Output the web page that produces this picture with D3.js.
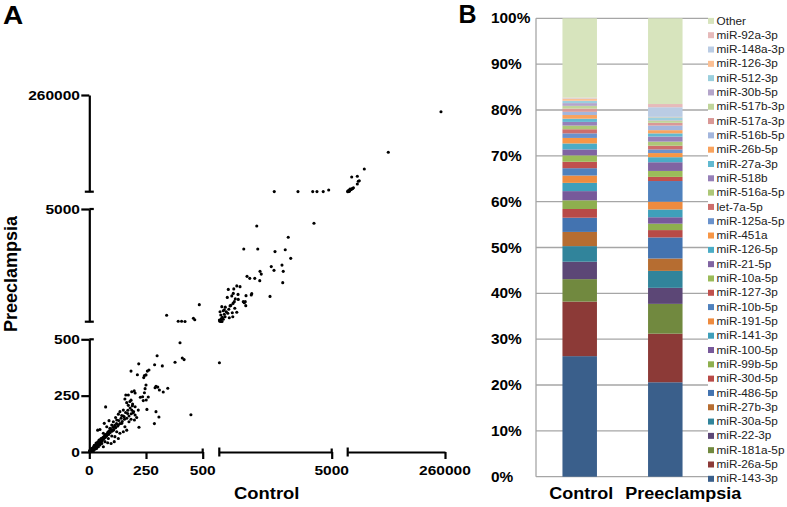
<!DOCTYPE html>
<html><head><meta charset="utf-8">
<script src="https://cdn.jsdelivr.net/npm/d3@7"></script>
<style>
body{margin:0;background:#fff}
svg{display:block}
text{font-family:"Liberation Sans",Arial,Helvetica,sans-serif}
</style></head>
<body><svg id="c" width="787" height="507"></svg>
<script>
// ---------- Panel A data (Control vs Preeclampsia read counts) ----------
const scatterControl = [
249500,111400,48500,15500,30200,35400,32800,30200,
5300,5800,6500,7200,8000,9000,10500,12000,14000,16000,18000,20000,6000,9500,11000,
2700,3650,4240,4410,4660,4880,
4290,3260,2730,3140,3360,2580,2690,3010,3060,3040,2530,2000,1480,2040,2130,2180,2120,1610,1720,1920,1800,1780,1570,1540,1560,
860,1080,1200,1330,1060,1250,1000,820,1140,1260,1460,1500,600,740,930,1050,1120,530,660,840,1020,1200,560,730,900,1040,505,560,610,660,
520,540,580,620,700,780,880,960,1100,700,
485,459,465,341,392,407,422,505,
400,299,378,410,418,288,322,218,184,212,243,250,256,263,240,294,302,309,290,326,346,250,246,243,161,198,225,238,251,254,260,235,202,72,294,307,287,219,448,
157,165,179,191,202,172,150,135,128,143,154,169,187,194,216,202,209,199,184,175,116,121,106,99,113,128,143,157,165,150,135,121,106,91,84,77,69,84,99,113,128,110,96,81,69,55,47,62,40,32,25,18,10,5,2,52,43,62,37,47,77,66,87,172,187,184,
5,8,12,15,20,3,28,22,35,30,10,18,40,45,55,60,38,25,14,50,
2,4,6,7,9,11,13,16,17,19,21,23,24,26,29,31,33,34,36,39,41,44,46,49,51,54,57,59,62,65,68,71,74,77,81,85,88,92,96,100,104,108,112,116,120,125,130,135,140,145,150,155,160,165,170,175,180,185,190,195
];
const scatterPreeclampsia = [
216000,108900,64900,43800,45600,34000,32400,25300,
5100,5600,6000,6500,7000,8000,8500,10000,11000,12500,13500,15500,7500,6500,12000,
5300,5300,5300,5300,5300,9500,
4430,3870,3300,3370,3030,2700,2550,2760,2510,2060,1510,4320,3400,3400,2510,2400,2140,2310,2230,2230,1620,1570,1540,1300,1140,
1790,1810,1930,1900,1630,1590,1530,1470,1410,1390,1300,1260,1100,1080,1130,1230,1040,900,940,840,860,880,770,700,660,700,570,505,510,600,
520,560,620,680,800,900,1000,1150,1300,980,
1180,640,580,755,520,520,505,396,
485,427,398,417,410,387,382,391,359,343,339,342,359,364,330,291,288,275,285,266,283,297,281,263,253,271,243,228,231,189,244,245,262,200,179,155,126,110,165,
235,219,224,213,201,207,186,179,168,162,156,171,186,174,186,164,153,142,145,134,153,142,134,120,112,120,127,112,97,90,83,90,97,105,90,75,68,60,71,68,60,46,38,41,46,38,31,23,23,16,12,6,3,1,0,60,53,83,97,100,112,127,139,253,267,230,
3,10,6,18,15,8,22,30,28,40,14,9,35,50,48,58,45,20,12,42,
5,2,7,4,12,8,15,11,20,16,24,19,28,22,33,27,36,30,41,35,44,40,52,45,56,49,62,55,66,60,74,65,79,72,86,78,94,86,100,92,110,100,118,108,126,115,140,126,150,135,160,145,175,150,185,160,195,170,205,180
];
const axisTicksA = [[0,250,500],[5000],[260000]];

// ---------- Panel B data (% of reads, stacked bottom -> top) ----------
const groupsB = ["Control","Preeclampsia"];
const mirNames = ["miR-143-3p","miR-26a-5p","miR-181a-5p","miR-22-3p","miR-30a-5p","miR-27b-3p","miR-486-5p","miR-30d-5p","miR-99b-5p","miR-100-5p","miR-141-3p","miR-191-5p","miR-10b-5p","miR-127-3p","miR-10a-5p","miR-21-5p","miR-126-5p","miR-451a","miR-125a-5p","let-7a-5p","miR-516a-5p","miR-518b","miR-27a-3p","miR-26b-5p","miR-516b-5p","miR-517a-3p","miR-517b-3p","miR-30b-5p","miR-512-3p","miR-126-3p","miR-148a-3p","miR-92a-3p","Other"];
const controlPct = [26.3,11.9,4.9,3.8,3.4,3.1,3.1,1.9,1.9,2.0,1.8,1.6,1.6,1.4,1.4,1.3,1.3,1.2,1.0,0.9,0.8,0.8,0.7,0.8,0.7,0.7,0.6,0.6,0.5,0.5,0.1,0.1,17.3];
const preeclampsiaPct = [20.6,10.6,6.5,3.5,3.7,2.7,4.6,1.6,1.4,1.4,1.7,1.7,4.5,0.9,1.3,1.9,1.1,0.9,0.8,0.8,0.9,1.1,0.7,0.7,1.0,0.6,0.5,0.1,0.6,0.1,2.1,0.7,18.7];
const mirColors = ["#3A5F8B","#8C3A37","#71893F","#5C4776","#31849B","#B66D31","#4373B0","#B84A47","#8EAF4E","#77599A","#3F9FBA","#EE8B3F","#4F81BD","#C0504D","#9BBB59","#8064A2","#4BACC6","#F79646","#6A92CC","#CD6E6B","#ADC777","#9680B8","#61B9D0","#F9A35E","#A3B6DD","#D99896","#C0D59B","#B4A5CA","#9BCFDD","#FBBF93","#BACCE4","#E6BABA","#D7E4BD"];
const pctTicks = d3.range(0,101,10);

const svg = d3.select("#c");

// ================= Panel A =================
const A = svg.append("g");
const xSegs = [[0,500],[500,5000],[5000,260000]].map((d,i)=>d3.scaleLinear(d,[[89.3,202.7],[219.3,331.7],[347.7,445]][i]));
const ySegs = [[0,500],[500,5000],[5000,260000]].map((d,i)=>d3.scaleLinear(d,[[452,339.3],[321.7,209],[191.7,95]][i]));
const segOf = v => v<=500?0:(v<=5000?1:2);
const px = v => xSegs[segOf(v)](v);
const py = v => ySegs[segOf(v)](v);
const yAxisX = 89.3, xAxisY = 452;

function styleAxis(g){
  g.select(".domain").attr("stroke","#000").attr("stroke-width",2.2);
  g.selectAll(".tick line").attr("stroke","#000").attr("stroke-width",2.2);
  g.selectAll(".tick text").remove();
}
xSegs.forEach((s,i)=>{
  const g = A.append("g").attr("transform",`translate(0,${xAxisY})`)
    .call(d3.axisBottom(s).tickValues(axisTicksA[i]).tickSize(7).tickSizeOuter(0));
  styleAxis(g);
});
ySegs.forEach((s,i)=>{
  const g = A.append("g").attr("transform",`translate(${yAxisX},0)`)
    .call(d3.axisLeft(s).tickValues(axisTicksA[i]).tickSize(8).tickSizeOuter(0));
  styleAxis(g);
});
// break caps
const capsX = [[xSegs[0].range()[1],-3.5,0],[xSegs[1].range()[0],-4.5,4.5],[xSegs[1].range()[1],-3.5,0],[xSegs[2].range()[0],-4.5,4.5]];
capsX.forEach(c=>A.append("line").attr("x1",c[0]).attr("x2",c[0]).attr("y1",xAxisY+c[1]).attr("y2",xAxisY+c[2]).attr("stroke","#000").attr("stroke-width",2.2));
const capsY = [[ySegs[0].range()[1],0,4.5],[ySegs[1].range()[0],-4.5,4.5],[ySegs[1].range()[1],0,4.5],[ySegs[2].range()[0],-4.5,4.5]];
capsY.forEach(c=>A.append("line").attr("y1",c[0]).attr("y2",c[0]).attr("x1",yAxisX+c[1]).attr("x2",yAxisX+c[2]).attr("stroke","#000").attr("stroke-width",2.2));

// tick labels
axisTicksA.forEach((ticks,i)=>ticks.forEach(t=>{
  A.append("text").attr("transform",`translate(${xSegs[i](t)},475) scale(1.15,1)`)
    .attr("text-anchor","middle").attr("font-size",13.5).attr("font-weight","bold").text(t);
  A.append("text").attr("transform",`translate(80,${ySegs[i](t)+4.8}) scale(1.15,1)`)
    .attr("text-anchor","end").attr("font-size",13.5).attr("font-weight","bold").text(t);
}));
A.append("text").attr("transform","translate(266.7,499) scale(1.15,1)").attr("text-anchor","middle")
  .attr("font-size",16).attr("font-weight","bold").text("Control");
A.append("text").attr("transform","translate(16.5,274) rotate(-90)").attr("text-anchor","middle")
  .attr("font-size",18).attr("font-weight","bold").text("Preeclampsia");
A.append("text").attr("transform","translate(3,24) scale(1.12,1)").attr("font-size",25).attr("font-weight","bold").text("A");

A.append("g").selectAll("circle").data(scatterControl.map((c,i)=>[c,scatterPreeclampsia[i]]))
  .join("circle").attr("cx",d=>px(d[0])).attr("cy",d=>py(d[1])).attr("r",1.55).attr("fill","#000");

// ================= Panel B =================
const B = svg.append("g");
const yB = d3.scaleLinear([0,100],[476.7,18.3]);
const xB = d3.scaleBand(groupsB,[537,708]).paddingInner(0.597).paddingOuter(0.2975);
const gridRight = 708;
B.append("g").selectAll("line").data(pctTicks).join("line")
  .attr("x1",536).attr("x2",gridRight).attr("y1",d=>yB(d)).attr("y2",d=>yB(d))
  .attr("stroke","#A6A6A6").attr("stroke-width",1.3);
B.append("line").attr("x1",536).attr("x2",536).attr("y1",yB(100)).attr("y2",yB(0)).attr("stroke","#A6A6A6").attr("stroke-width",1.3);

const tableB = groupsB.map((g,gi)=>{
  const row = {group:g};
  mirNames.forEach((m,i)=>row[m] = gi===0?controlPct[i]:preeclampsiaPct[i]);
  return row;
});
const stacked = d3.stack().keys(mirNames)(tableB);
B.append("g").selectAll("g").data(stacked).join("g").attr("fill",(d,i)=>mirColors[i])
  .selectAll("rect").data(d=>d).join("rect")
  .attr("x",d=>xB(d.data.group)).attr("width",xB.bandwidth())
  .attr("y",d=>yB(d[1])).attr("height",d=>yB(d[0])-yB(d[1]));

B.append("g").selectAll("text").data(pctTicks).join("text")
  .attr("transform",d=>`translate(491,${yB(d)+5}) scale(1.1,1)`)
  .attr("font-size",14).attr("font-weight","bold").text(d=>d+"%");
const xLabelShift = {Control:1.5, Preeclampsia:18};
B.append("g").selectAll("text").data(groupsB).join("text")
  .attr("transform",d=>`translate(${xB(d)+xB.bandwidth()/2+xLabelShift[d]},499.3) scale(1.06,1)`)
  .attr("text-anchor","middle").attr("font-size",17).attr("font-weight","bold").text(d=>d);
B.append("text").attr("transform","translate(458.5,23.3) scale(1.0,1)").attr("font-size",25).attr("font-weight","bold").text("B");

// legend (top = last series)
const legendOrder = mirNames.map((m,i)=>i).reverse();
const legY = d3.scaleLinear([0,32],[20.9,478.8]);
const lg = B.append("g").selectAll("g").data(legendOrder).join("g")
  .attr("transform",(d,i)=>`translate(708,${legY(i)})`);
lg.append("rect").attr("x",0).attr("y",-3).attr("width",6).attr("height",6).attr("fill",d=>mirColors[d]);
lg.append("text").attr("transform","translate(8.5,3.6) scale(1.07,1)").attr("font-size",11).attr("fill","#222").text(d=>mirNames[d]);
</script></body></html>
